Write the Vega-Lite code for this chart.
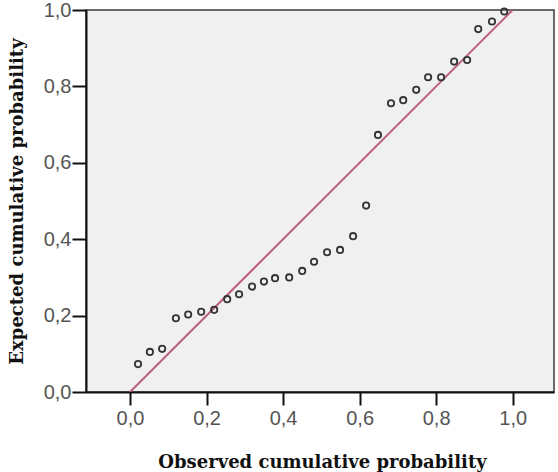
{
  "$schema": "https://vega.github.io/schema/vega-lite/v6.json",
  "autosize": {"type": "none"},
  "padding": {"left": 86, "top": 10, "right": 4, "bottom": 80},
  "width": 468,
  "height": 382,
  "background": "#ffffff",
  "config": {
    "view": {"fill": "#f0f0f0", "stroke": "#3a3a3a", "strokeWidth": 1.5},
    "axis": {
      "grid": false,
      "domainColor": "#111111",
      "domainWidth": 2,
      "tickColor": "#111111",
      "tickWidth": 2,
      "labelFont": "Liberation Sans",
      "labelFontSize": 20,
      "labelColor": "#555555",
      "titleFont": "DejaVu Serif",
      "titleFontWeight": "bold",
      "titleFontSize": 18,
      "titleColor": "#111111"
    }
  },
  "datasets": {
    "pts": [
      {"observed": 0.021, "expected": 0.073},
      {"observed": 0.052, "expected": 0.105},
      {"observed": 0.084, "expected": 0.113},
      {"observed": 0.120, "expected": 0.193},
      {"observed": 0.152, "expected": 0.203},
      {"observed": 0.186, "expected": 0.210},
      {"observed": 0.220, "expected": 0.215},
      {"observed": 0.254, "expected": 0.243},
      {"observed": 0.285, "expected": 0.256},
      {"observed": 0.319, "expected": 0.276},
      {"observed": 0.350, "expected": 0.289},
      {"observed": 0.379, "expected": 0.298},
      {"observed": 0.416, "expected": 0.300},
      {"observed": 0.450, "expected": 0.317},
      {"observed": 0.481, "expected": 0.341},
      {"observed": 0.515, "expected": 0.366},
      {"observed": 0.549, "expected": 0.372},
      {"observed": 0.583, "expected": 0.408},
      {"observed": 0.617, "expected": 0.488},
      {"observed": 0.648, "expected": 0.673},
      {"observed": 0.682, "expected": 0.756},
      {"observed": 0.714, "expected": 0.764},
      {"observed": 0.748, "expected": 0.791},
      {"observed": 0.779, "expected": 0.824},
      {"observed": 0.813, "expected": 0.824},
      {"observed": 0.847, "expected": 0.865},
      {"observed": 0.881, "expected": 0.869},
      {"observed": 0.910, "expected": 0.950},
      {"observed": 0.946, "expected": 0.970},
      {"observed": 0.978, "expected": 0.996}
    ],
    "ref": [
      {"observed": 0, "expected": 0},
      {"observed": 1, "expected": 1}
    ]
  },
  "layer": [
    {
      "data": {"name": "ref"},
      "mark": {"type": "line", "color": "#bd5f7c", "strokeWidth": 2, "clip": true},
      "encoding": {
        "x": {"field": "observed", "type": "quantitative"},
        "y": {"field": "expected", "type": "quantitative"}
      }
    },
    {
      "data": {"name": "pts"},
      "mark": {"type": "point", "shape": "circle", "filled": false, "stroke": "#333333", "strokeWidth": 1.8, "size": 40, "opacity": 1},
      "encoding": {
        "x": {
          "field": "observed",
          "type": "quantitative",
          "scale": {"domain": [-0.115, 1.108], "nice": false, "zero": false},
          "axis": {
            "title": "Observed cumulative probability",
            "values": [0, 0.2, 0.4, 0.6, 0.8, 1.0],
            "labelExpr": "replace(format(datum.value, '.1f'), '.', ',')",
            "tickSize": 13,
            "labelPadding": 3,
            "titleX": 236,
            "titleY": 70,
            "titleBaseline": "middle",
            "titleAlign": "center"
          }
        },
        "y": {
          "field": "expected",
          "type": "quantitative",
          "scale": {"domain": [0, 1], "nice": false, "zero": false},
          "axis": {
            "title": "Expected cumulative probability",
            "values": [0, 0.2, 0.4, 0.6, 0.8, 1.0],
            "labelExpr": "replace(format(datum.value, '.1f'), '.', ',')",
            "tickSize": 14,
            "labelPadding": 1,
            "titleX": -69,
            "titleY": 191,
            "titleAngle": -90,
            "titleBaseline": "middle",
            "titleAlign": "center"
          }
        }
      }
    }
  ]
}
